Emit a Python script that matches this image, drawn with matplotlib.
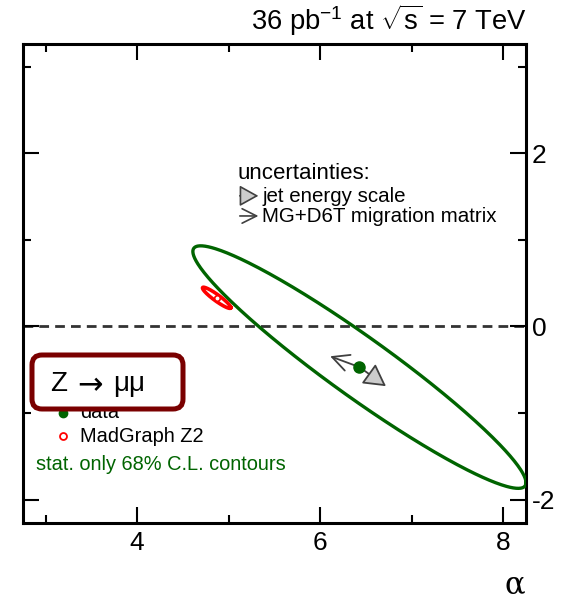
import numpy as np
import matplotlib
matplotlib.use("Agg")
import matplotlib.pyplot as plt
from matplotlib.patches import FancyBboxPatch
from matplotlib.ticker import MultipleLocator

plt.rcParams['font.family'] = ['Liberation Sans', 'DejaVu Sans']
plt.rcParams['mathtext.fontset'] = 'custom'
plt.rcParams['mathtext.rm'] = 'Liberation Sans'

# Fit results: 68% C.L. contours (center, half-extents in x/y, correlation)
data_center = (6.43, -0.47)
data_halfext = (1.82, 1.40)
data_rho = -0.953

mg_center = (4.87, 0.33)
mg_halfext = (0.155, 0.122)
mg_rho = -0.93

# Systematic shifts of the data point
jes_shift = (6.72, -0.69)
migration_shift = (6.11, -0.345)

x_range = (2.754, 8.25)
y_range = (-2.27, 3.26)
x_major = [4, 6, 8]
y_major = [-2, 0, 2]

GREEN = '#006400'
RED = '#ff0000'
DARKGRAY = '#404040'


def contour(center, halfext, rho, n=400):
    t = np.linspace(0, 2 * np.pi, n)
    phi = np.arccos(rho)
    x = center[0] + halfext[0] * np.cos(t)
    y = center[1] + halfext[1] * np.cos(t + phi)
    return x, y


fig = plt.figure(figsize=(5.77, 6.02), dpi=100)
ax = fig.add_axes([23 / 577, 79 / 602, 503 / 577, 479 / 602])
ax.set_xlim(*x_range)
ax.set_ylim(*y_range)

# zero line
ax.axhline(0, color='#333333', lw=2.0, ls=(0, (3.5, 2.2)), zorder=1)

# contours
gx, gy = contour(data_center, data_halfext, data_rho)
ax.plot(gx, gy, color=GREEN, lw=2.4, zorder=3)
rx, ry = contour(mg_center, mg_halfext, mg_rho)
ax.plot(rx, ry, color=RED, lw=2.6, zorder=3)
ax.plot(*mg_center, 'o', ms=4, mfc='white', mec=RED, mew=1.2, zorder=4)

# systematic shift arrows
ax.annotate('', xy=jes_shift, xytext=data_center,
            arrowprops=dict(arrowstyle='-|>,head_length=0.9,head_width=0.5',
                            fc='#cccccc', ec=DARKGRAY, lw=1.3,
                            shrinkA=0, shrinkB=0, mutation_scale=15), zorder=5)
ax.annotate('', xy=migration_shift, xytext=data_center,
            arrowprops=dict(arrowstyle='->,head_length=0.8,head_width=0.4',
                            color=DARKGRAY, lw=1.3,
                            shrinkA=0, shrinkB=0, mutation_scale=15), zorder=5)
ax.plot(*data_center, 'o', ms=8, color=GREEN, zorder=6)

# uncertainty key
ax.text(5.10, 1.76, 'uncertainties:', fontsize=16, va='center', ha='left')
ax.annotate('', xy=(0.468, 0.683), xytext=(0.431, 0.683), xycoords='axes fraction',
            arrowprops=dict(arrowstyle='-|>,head_length=0.9,head_width=0.5',
                            fc='#cccccc', ec=DARKGRAY, lw=1.2,
                            shrinkA=0, shrinkB=0, mutation_scale=13))
ax.annotate('', xy=(0.468, 0.641), xytext=(0.431, 0.641), xycoords='axes fraction',
            arrowprops=dict(arrowstyle='->,head_length=0.8,head_width=0.4',
                            color=DARKGRAY, lw=1.2,
                            shrinkA=0, shrinkB=0, mutation_scale=13))
ax.text(5.37, 1.50, 'jet energy scale', fontsize=14.8, va='center', ha='left')
ax.text(5.37, 1.27, 'MG+D6T migration matrix', fontsize=14.8, va='center', ha='left')

# legend
box = FancyBboxPatch((0.32, 1.93), 1.51, 0.54,
                     boxstyle='round,pad=0,rounding_size=0.1',
                     transform=fig.dpi_scale_trans, fc='white', ec='#7a0000',
                     lw=3.6, zorder=10, clip_on=False)
fig.add_artist(box)
ybox = (602 - 384) / 602
fig.text(50 / 577, ybox, 'Z', fontsize=20, va='center', ha='left', zorder=11)
fig.text(77 / 577, ybox - 0.002, '→', fontsize=22, family='DejaVu Sans',
         va='center', ha='left', zorder=11)
fig.text(113 / 577, ybox, 'μμ', fontsize=20, va='center', ha='left', zorder=11)
ax.plot(3.19, -1.00, 'o', ms=6, color=GREEN, clip_on=False)
ax.text(3.38, -1.00, 'data', fontsize=14.4, va='center', ha='left')
ax.plot(3.19, -1.27, 'o', ms=5, mfc='white', mec=RED, mew=1.3, clip_on=False)
ax.text(3.38, -1.27, 'MadGraph Z2', fontsize=14.4, va='center', ha='left')
ax.text(2.90, -1.60, 'stat. only 68% C.L. contours', fontsize=14.4, color=GREEN,
        va='center', ha='left')

# axes styling
for s in ax.spines.values():
    s.set_linewidth(2.2)
ax.xaxis.set_major_locator(MultipleLocator(2))
ax.xaxis.set_minor_locator(MultipleLocator(1))
ax.yaxis.set_major_locator(MultipleLocator(2))
ax.yaxis.set_minor_locator(MultipleLocator(1))
ax.tick_params(which='both', direction='in', top=True, bottom=True,
               left=True, right=True, width=1.5)
ax.tick_params(which='major', length=11.5)
ax.tick_params(which='minor', length=6)
ax.tick_params(axis='y', labelleft=False, labelright=True, labelsize=19, pad=4)
ax.tick_params(axis='x', labelsize=19, pad=6)
ax.set_xticks(x_major)
ax.set_yticks(y_major)
ax.set_yticklabels([str(v) for v in y_major])

fig.text(515 / 577, (602 - 585) / 602, 'α', fontsize=22, family='DejaVu Serif',
         ha='center', va='center')
fig.text(527 / 577, (602 - 30) / 602,
         r'36 pb$^{\mathregular{-1}}$ at $\sqrt{\mathregular{s}}$ = 7 TeV',
         fontsize=19.7, ha='right', va='baseline')

fig.savefig('out.png', dpi=100)
